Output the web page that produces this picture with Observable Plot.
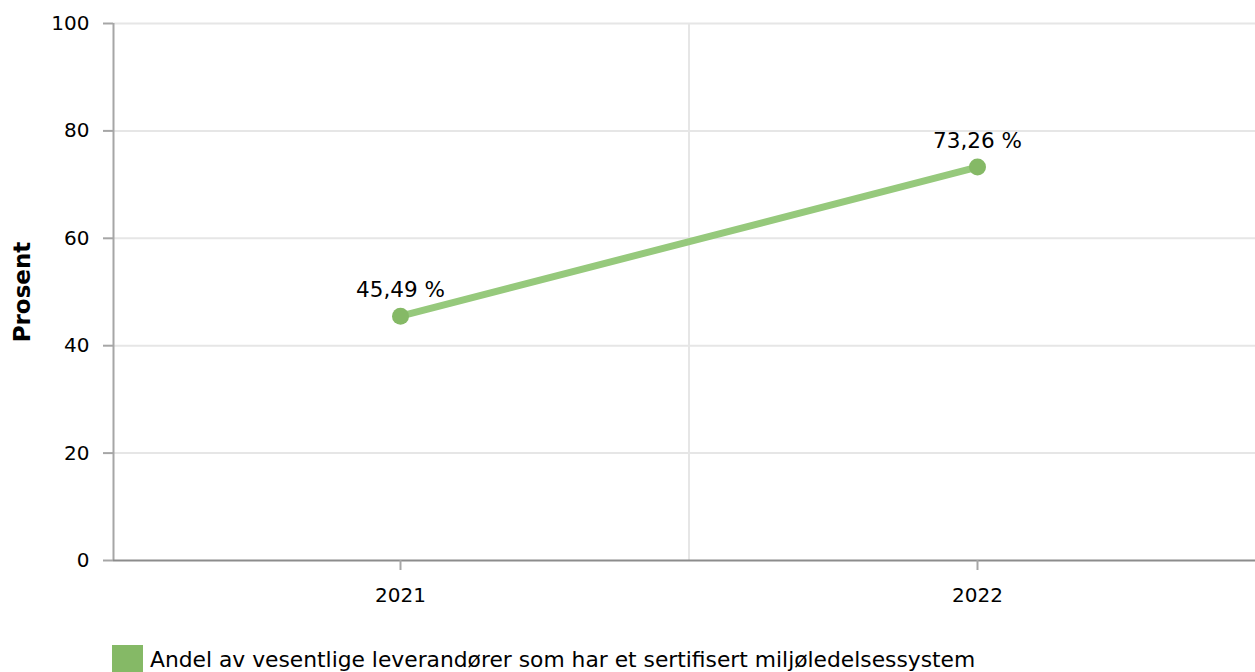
<!DOCTYPE html>
<html>
<head>
<meta charset="utf-8">
<script src="https://cdn.jsdelivr.net/npm/d3@7"></script>
<script src="https://cdn.jsdelivr.net/npm/@observablehq/plot@0.6"></script>
<style>
  html, body { margin: 0; padding: 0; background: #fff; overflow: hidden; }
  body { font-family: "DejaVu Sans", Verdana, sans-serif; }
  #legend { position: relative; height: 40px; }
  #legend .sw { position: absolute; left: 112px; top: 10px; width: 31px; height: 31px; background: #85b966; }
  #legend .lb { position: absolute; left: 150px; top: 12px; font-size: 21.8px; color: #000; white-space: nowrap; }
</style>
</head>
<body>
<div id="chart"></div>
<div id="legend"><div class="sw"></div><div class="lb" id="lb"></div></div>
<script>
const years = [2021, 2022];
const values = [45.49, 73.26];
const yTicks = [0, 20, 40, 60, 80, 100];
const seriesName = "Andel av vesentlige leverandører som har et sertifisert miljøledelsessystem";
const yLabel = "Prosent";

const data = years.map((y, i) => ({year: y, value: values[i]}));
const fmt = v => d3.format(".2f")(v).replace(".", ",") + " %";

const W = 1255, H = 635;
const chart = Plot.plot({
  width: W,
  height: H,
  marginTop: 23,
  marginBottom: H - 560,
  marginLeft: 113,
  marginRight: 0,
  style: {fontFamily: "DejaVu Sans, Verdana, sans-serif", fontSize: "20px", color: "#000", background: "#fff", overflow: "hidden"},
  x: {domain: [2020.5, 2022.5], range: [111.5, 1265.5], axis: null},
  y: {domain: [0, 100], axis: null},
  marks: [
    Plot.ruleY(yTicks.filter(d => d > 0), {stroke: "#e6e6e6", strokeWidth: 2}),
    Plot.ruleX([2021.5], {stroke: "#e6e6e6", strokeWidth: 2}),
    Plot.axisY(yTicks, {tickSize: 10, tickPadding: 14, stroke: "#a6a6a6", strokeWidth: 2, fill: "#000", fontSize: 20, label: null}),
    Plot.ruleX([2020.5], {dx: 1.5, stroke: "#a6a6a6", strokeWidth: 2}),
    Plot.ruleY([0], {stroke: "#8c8c8c", strokeWidth: 2}),
    Plot.axisX(years, {tickSize: 10, tickPadding: 17, stroke: "#a6a6a6", strokeWidth: 2, fill: "#000", fontSize: 20, tickFormat: d => String(d), label: null}),
    Plot.line(data, {x: "year", y: "value", stroke: "#96c97c", strokeWidth: 7}),
    Plot.dot(data, {x: "year", y: "value", r: 8.5, fill: "#85b966"}),
    Plot.text(data, {x: "year", y: "value", text: d => fmt(d.value), dy: -26, fill: "#000", fontSize: 21.5}),
    Plot.text([yLabel], {frameAnchor: "left", textAnchor: "middle", dx: -91, rotate: -90, fontWeight: "bold", fontSize: 23, fill: "#000"})
  ]
});
document.getElementById("chart").appendChild(chart);
document.getElementById("lb").textContent = seriesName;
</script>
</body>
</html>
